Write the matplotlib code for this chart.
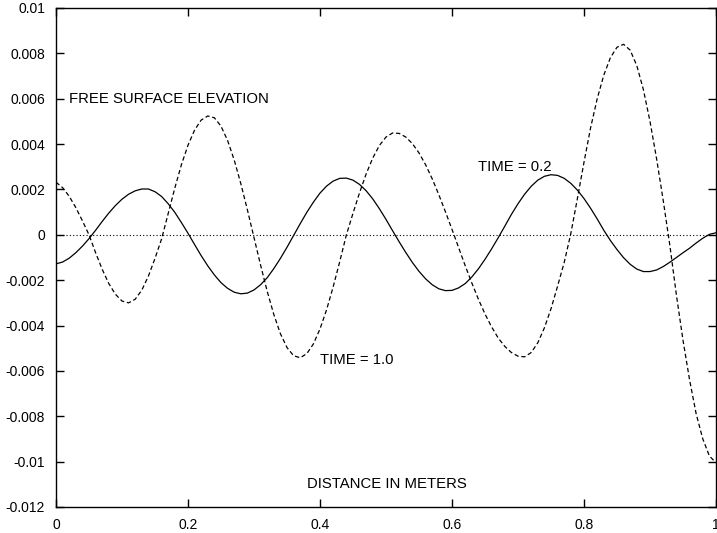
import matplotlib
matplotlib.use("Agg")
import matplotlib.pyplot as plt

# distance (m), sampled every 0.01
x_dist = [0.00, 0.01, 0.02, 0.03, 0.04, 0.05, 0.06, 0.07, 0.08, 0.09,
          0.10, 0.11, 0.12, 0.13, 0.14, 0.15, 0.16, 0.17, 0.18, 0.19,
          0.20, 0.21, 0.22, 0.23, 0.24, 0.25, 0.26, 0.27, 0.28, 0.29,
          0.30, 0.31, 0.32, 0.33, 0.34, 0.35, 0.36, 0.37, 0.38, 0.39,
          0.40, 0.41, 0.42, 0.43, 0.44, 0.45, 0.46, 0.47, 0.48, 0.49,
          0.50, 0.51, 0.52, 0.53, 0.54, 0.55, 0.56, 0.57, 0.58, 0.59,
          0.60, 0.61, 0.62, 0.63, 0.64, 0.65, 0.66, 0.67, 0.68, 0.69,
          0.70, 0.71, 0.72, 0.73, 0.74, 0.75, 0.76, 0.77, 0.78, 0.79,
          0.80, 0.81, 0.82, 0.83, 0.84, 0.85, 0.86, 0.87, 0.88, 0.89,
          0.90, 0.91, 0.92, 0.93, 0.94, 0.95, 0.96, 0.97, 0.98, 0.99, 1.00]

# free surface elevation at TIME = 0.2 (units of 1e-3 m)
elev_t02 = [-1.28, -1.20, -1.03, -0.79, -0.50, -0.17, 0.20, 0.59, 0.96, 1.29,
            1.57, 1.79, 1.94, 2.02, 2.02, 1.90, 1.69, 1.37, 0.99, 0.54,
            0.07, -0.43, -0.92, -1.37, -1.77, -2.11, -2.36, -2.53, -2.60, -2.57,
            -2.43, -2.20, -1.89, -1.49, -1.04, -0.55, -0.03, 0.49, 0.99, 1.44,
            1.84, 2.15, 2.37, 2.49, 2.50, 2.41, 2.22, 1.94, 1.58, 1.15,
            0.68, 0.18, -0.31, -0.78, -1.22, -1.61, -1.94, -2.20, -2.38, -2.46,
            -2.45, -2.34, -2.15, -1.86, -1.50, -1.08, -0.62, -0.13, 0.38, 0.90,
            1.37, 1.79, 2.14, 2.41, 2.58, 2.65, 2.62, 2.49, 2.27, 1.97,
            1.60, 1.17, 0.70, 0.20, -0.25, -0.65, -1.01, -1.30, -1.51, -1.62,
            -1.62, -1.55, -1.40, -1.21, -1.00, -0.79, -0.59, -0.36, -0.15, 0.02, 0.09]

# free surface elevation at TIME = 1.0 (units of 1e-3 m)
elev_t10 = [2.32, 2.08, 1.70, 1.20, 0.62, 0.00, -0.79, -1.52, -2.15, -2.62,
            -2.92, -3.00, -2.84, -2.44, -1.82, -1.04, -0.18, 0.94, 2.06, 3.09,
            3.95, 4.62, 5.06, 5.24, 5.16, 4.79, 4.16, 3.30, 2.26, 1.10,
            -0.12, -1.34, -2.49, -3.51, -4.36, -4.97, -5.33, -5.42, -5.24, -4.81,
            -4.15, -3.30, -2.29, -1.17, 0.00, 0.95, 1.86, 2.69, 3.39, 3.94,
            4.31, 4.49, 4.47, 4.31, 4.02, 3.61, 3.09, 2.47, 1.77, 1.02,
            0.24, -0.56, -1.36, -2.12, -2.84, -3.49, -4.06, -4.55, -4.92, -5.19,
            -5.35, -5.38, -5.19, -4.76, -4.10, -3.26, -2.26, -1.22, 0.05, 1.60,
            3.20, 4.72, 6.00, 7.04, 7.81, 8.27, 8.40, 8.14, 7.46, 6.40,
            5.00, 3.35, 1.52, -0.45, -2.65, -4.65, -6.40, -7.90, -9.00, -9.75, -10.05]

x_ticks = [0, 0.2, 0.4, 0.6, 0.8, 1.0]
x_tick_labels = ["0", "0.2", "0.4", "0.6", "0.8", "1"]
y_ticks = [0.01, 0.008, 0.006, 0.004, 0.002, 0, -0.002, -0.004, -0.006,
           -0.008, -0.01, -0.012]
y_tick_labels = ["0.01", "0.008", "0.006", "0.004", "0.002", "0", "-0.002",
                 "-0.004", "-0.006", "-0.008", "-0.01", "-0.012"]

plt.rcParams['font.family'] = ['Liberation Sans', 'DejaVu Sans']

fig = plt.figure(figsize=(7.17, 5.33), dpi=100)
ax = fig.add_axes([56 / 717, 26 / 533, 660 / 717, 499 / 533])

ax.axhline(0, color='black', linestyle=(0, (1, 2)), linewidth=0.8)
ax.plot(x_dist, [v * 1e-3 for v in elev_t02], color='black', linewidth=0.9)
ax.plot(x_dist, [v * 1e-3 for v in elev_t10], color='black', linewidth=0.9,
        linestyle=(0, (3.5, 2.2)))

ax.set_xlim(0, 1)
ax.set_ylim(-0.012, 0.01)
ax.set_xticks(x_ticks)
ax.set_xticklabels(x_tick_labels)
ax.set_yticks(y_ticks)
ax.set_yticklabels(y_tick_labels)
ax.tick_params(direction='in', length=6, width=1, top=True, right=True,
               labelsize=10, pad=8)
for s in ax.spines.values():
    s.set_linewidth(1.0)

fs = 10.7
ax.text(0.02, 0.006, "FREE SURFACE ELEVATION", fontsize=fs, va='center', ha='left')
ax.text(0.64, 0.003, "TIME = 0.2", fontsize=fs, va='center', ha='left')
ax.text(0.40, -0.0055, "TIME = 1.0", fontsize=fs, va='center', ha='left')
ax.text(0.38, -0.011, "DISTANCE IN METERS", fontsize=fs, va='center', ha='left')

fig.savefig("out.png", dpi=100)
